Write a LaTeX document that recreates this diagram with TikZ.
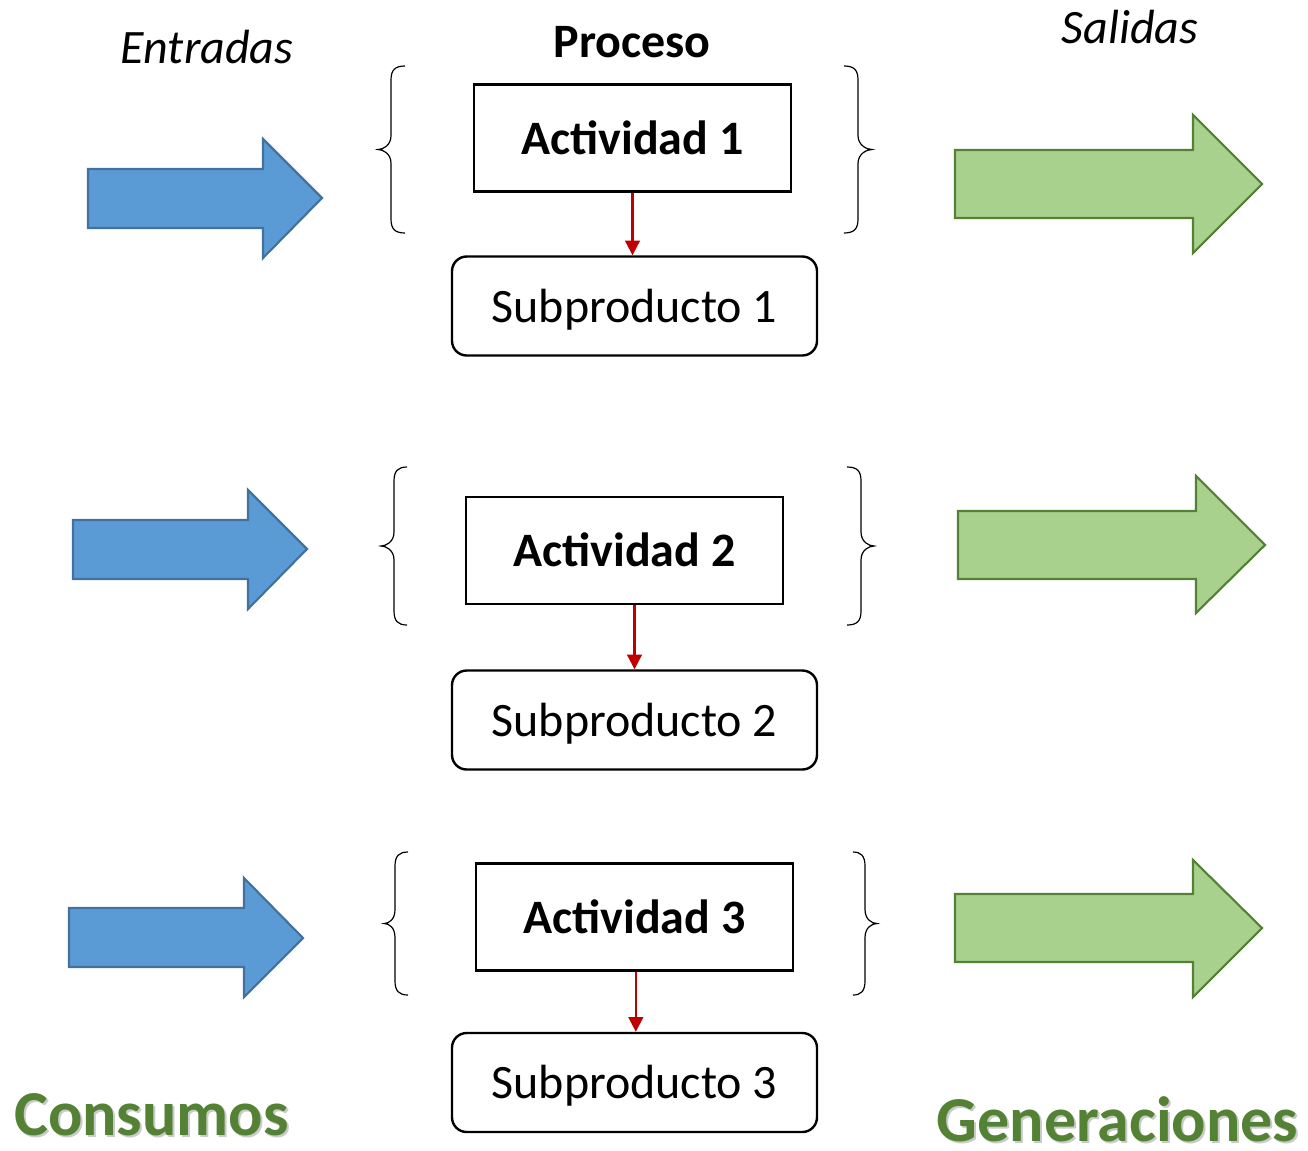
\documentclass[tikz,border=0pt]{standalone}
\usepackage{fontspec}
\setmainfont{Carlito}
\usetikzlibrary{arrows.meta}
\definecolor{bluefill}{HTML}{5B9BD5}
\definecolor{blueline}{HTML}{41719C}
\definecolor{greenfill}{HTML}{A9D18E}
\definecolor{greenline}{HTML}{548235}
\definecolor{darkred}{HTML}{C00000}
\newcommand{\bracepathL}[5]{% xend, xline, xpoint, top, bottom
  \draw[bracestyle] (#1,#4) .. controls ({#2+4},#4) and (#2,{#4+4}) .. (#2,{#4+14})
    -- (#2,{(#4+#5)/2-14}) .. controls (#2,{(#4+#5)/2-4}) and ({#3+5},{(#4+#5)/2}) .. (#3,{(#4+#5)/2})
    .. controls ({#3+5},{(#4+#5)/2}) and (#2,{(#4+#5)/2+4}) .. (#2,{(#4+#5)/2+14})
    -- (#2,{#5-14}) .. controls (#2,{#5-4}) and ({#2+4},#5) .. (#1,#5);}
\newcommand{\bracepathR}[5]{% xend, xline, xpoint, top, bottom
  \draw[bracestyle] (#1,#4) .. controls ({#2-4},#4) and (#2,{#4+4}) .. (#2,{#4+14})
    -- (#2,{(#4+#5)/2-14}) .. controls (#2,{(#4+#5)/2-4}) and ({#3-5},{(#4+#5)/2}) .. (#3,{(#4+#5)/2})
    .. controls ({#3-5},{(#4+#5)/2}) and (#2,{(#4+#5)/2+4}) .. (#2,{(#4+#5)/2+14})
    -- (#2,{#5-14}) .. controls (#2,{#5-4}) and ({#2-4},#5) .. (#1,#5);}
\begin{document}
\begin{tikzpicture}[x=0.75pt,y=-0.75pt,
  bracestyle/.style={line width=0.9pt,black},
  inarrow/.style={fill=bluefill,draw=blueline,line width=1.6pt,line join=miter},
  outarrow/.style={fill=greenfill,draw=greenline,line width=1.6pt,line join=miter},
  actbox/.style={draw,line width=1.8pt,minimum width=237.75pt,minimum height=80.25pt,inner sep=0pt,
    font=\fontsize{36}{40}\selectfont\bfseries,text height=24pt,text depth=0pt},
  subbox/.style={draw,line width=1.8pt,rounded corners=11pt,minimum width=273.75pt,minimum height=74.25pt,inner sep=0pt,
    font=\fontsize{36}{40}\selectfont,text height=24pt,text depth=0pt},
  redarrow/.style={darkred,line width=1.6pt,-{Triangle[length=11pt,width=11pt]}},
  header/.style={anchor=base,inner sep=0pt,font=\fontsize{36}{40}\selectfont},
  bigword/.style={anchor=base,inner sep=0pt,font=\fontsize{48}{52}\selectfont\bfseries,text=greenline}
]
\useasboundingbox (0,0) rectangle (1308,1150);

% headers
\node[header,font=\fontsize{36}{40}\selectfont\itshape] (entradas) at (207,63) {Entradas};
\node[header,font=\fontsize{36}{40}\selectfont\bfseries] (proceso) at (632,57) {Proceso};
\node[header,font=\fontsize{36}{40}\selectfont\itshape] (salidas) at (1130,43) {Salidas};

% input arrows
\draw[inarrow] (88,169) -- (263,169) -- (263,139) -- (322,198) -- (263,258) -- (263,228) -- (88,228) -- cycle;
\draw[inarrow] (73,520) -- (248,520) -- (248,490) -- (307,549) -- (248,609) -- (248,579) -- (73,579) -- cycle;
\draw[inarrow] (69,908) -- (244,908) -- (244,878) -- (303,938) -- (244,997) -- (244,967) -- (69,967) -- cycle;

% output arrows
\draw[outarrow] (955,150) -- (1193,150) -- (1193,115) -- (1262,184) -- (1193,253) -- (1193,218) -- (955,218) -- cycle;
\draw[outarrow] (958,511) -- (1196,511) -- (1196,476) -- (1265,545) -- (1196,613) -- (1196,579) -- (958,579) -- cycle;
\draw[outarrow] (955,894) -- (1193,894) -- (1193,860) -- (1262,928) -- (1193,997) -- (1193,962) -- (955,962) -- cycle;

% braces
\bracepathL{405}{391}{378}{66}{233}
\bracepathR{844}{858}{872}{66}{233}
\bracepathL{407}{394}{381}{467}{625}
\bracepathR{847}{861}{874}{467}{625}
\bracepathL{408}{395}{384}{852}{995}
\bracepathR{853}{865}{877}{852}{995}

% activities
\node[actbox] (a1) at (632.5,138) {Actividad 1};
\node[actbox] (a2) at (624.5,550.5) {Actividad 2};
\node[actbox] (a3) at (634.5,917) {Actividad 3};

% subproducts
\node[subbox] (s1) at (634.5,306) {Subproducto 1};
\node[subbox] (s2) at (634.5,720) {Subproducto 2};
\node[subbox] (s3) at (634.5,1082.5) {Subproducto 3};

% red connectors
\draw[redarrow] (a1.south) -- (a1.south |- s1.north);
\draw[redarrow] ([xshift=7.5pt]a2.south) -- ([xshift=7.5pt]a2.south |- s2.north);
\draw[redarrow] ([xshift=1pt]a3.south) -- ([xshift=1pt]a3.south |- s3.north);

% bottom words with soft shadow
\node[bigword,text=black!35,opacity=0.6] (consumosshadow) at (153.5,1137) {Consumos};
\node[bigword] (consumos) at (151.5,1135) {Consumos};
\node[bigword,text=black!35,opacity=0.6] (generacionesshadow) at (1119.5,1143) {Generaciones};
\node[bigword] (generaciones) at (1117.5,1141) {Generaciones};
\end{tikzpicture}
\end{document}
